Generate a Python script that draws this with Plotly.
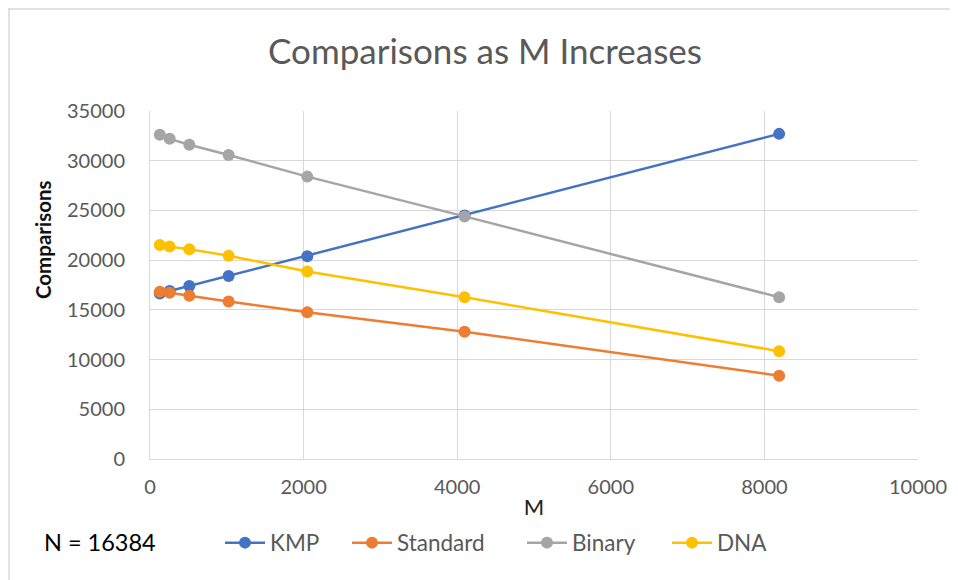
import plotly.graph_objects as go

M = [128, 256, 512, 1024, 2048, 4096, 8192]
kmp = [16640, 16896, 17408, 18400, 20400, 24500, 32700]
standard = [16830, 16730, 16430, 15830, 14760, 12800, 8380]
binary = [32600, 32200, 31600, 30580, 28400, 24400, 16270]
dna = [21530, 21360, 21100, 20450, 18850, 16270, 10840]

names = ["KMP", "Standard", "Binary", "DNA"]
values = [kmp, standard, binary, dna]
colors = ["#4472C4", "#ED7D31", "#A5A5A5", "#FFC000"]
legend_x = [220, 347, 522, 667]   # page x of each legend entry

FONT = "Lato"
OFF = 8  # page body margin
W, H = 950, 572
L, R, T, B = 142, 40, 103, 121
pw, ph = W - L - R, H - T - B

def px(x):
    return (x - OFF - L) / pw

def py(y):
    return (H - B - (y - OFF)) / ph

fig = go.Figure()
legends = {}
for i, (name, vals, col) in enumerate(zip(names, values, colors)):
    key = "legend" if i == 0 else f"legend{i + 1}"
    fig.add_trace(go.Scatter(x=M, y=vals, name=name, mode="lines+markers",
                             line=dict(color=col, width=2.5),
                             marker=dict(color=col, size=12), legend=key))
    legends[key] = dict(orientation="h", x=px(legend_x[i]), y=py(543), xanchor="left",
                        yanchor="middle", font=dict(size=22.5, color="#595959", family=FONT),
                        itemwidth=40, bgcolor="rgba(0,0,0,0)")

fig.update_layout(
    width=W, height=H,
    margin=dict(l=L, r=R, t=T, b=B),
    paper_bgcolor="white", plot_bgcolor="white",
    font=dict(family=FONT, color="#595959", size=20),
    title=dict(text="Comparisons as M Increases", x=(485 - OFF) / W, xanchor="center",
               y=1 - (52 - OFF) / H, yanchor="middle",
               font=dict(size=35, color="#595959", family=FONT)),
    xaxis=dict(range=[0, 10000], dtick=2000, tick0=0, showgrid=True,
               gridcolor="#D9D9D9", gridwidth=1, zeroline=False,
               showline=True, linecolor="#D9D9D9", linewidth=1, ticks="",
               tickformat="d", tickfont=dict(size=20, color="#595959"),
               ticklabelstandoff=10,
               title=dict(text="M", font=dict(size=22, color="#222222"), standoff=2)),
    yaxis=dict(range=[0, 35000], dtick=5000, tick0=0, showgrid=True,
               gridcolor="#D9D9D9", gridwidth=1, zeroline=False,
               showline=True, linecolor="#D9D9D9", linewidth=1, ticks="",
               tickformat="d", tickfont=dict(size=20, color="#595959"),
               ticklabelstandoff=20),
    showlegend=True,
    **legends,
)

fig.add_annotation(text="Comparisons", textangle=-90, x=px(43), y=py(240),
                   xref="paper", yref="paper", xanchor="center", yanchor="middle",
                   showarrow=False,
                   font=dict(size=20.5, color="#111111", family=FONT, weight="bold"))
fig.add_annotation(text="N = 16384", x=px(42), y=py(542), xref="paper", yref="paper",
                   xanchor="left", yanchor="middle", showarrow=False,
                   font=dict(size=23.5, color="#000000", family=FONT))

fig.add_shape(type="line", xref="paper", yref="paper", x0=px(OFF), x1=px(OFF + W), y0=py(OFF + 1), y1=py(OFF + 1),
              line=dict(color="#D9D9D9", width=1.5))
fig.add_shape(type="line", xref="paper", yref="paper", x0=px(OFF + 1), x1=px(OFF + 1), y0=py(OFF), y1=py(OFF + H),
              line=dict(color="#D9D9D9", width=1.5))

fig.write_html("out.html")
